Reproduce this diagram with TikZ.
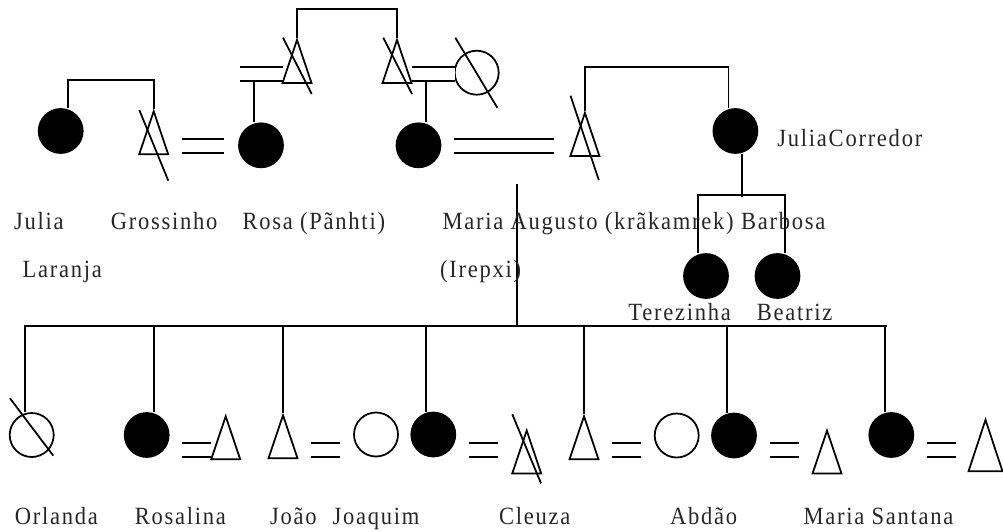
\documentclass[tikz,border=0pt]{standalone}
\usepackage{fontspec}
\setmainfont{Liberation Serif}[FakeStretch=0.91,LetterSpace=7]
\usetikzlibrary{shapes.geometric}
\tikzset{
  fem/.style={circle, draw, inner sep=0, minimum size=0.88cm},
  femf/.style={fem, fill=black},
  mal/.style={isosceles triangle, isosceles triangle stretches, shape border rotate=90, draw, inner sep=0, minimum width=0.58cm, minimum height=0.86cm, anchor=apex},
  marry/.style={double distance=0.245cm},
  lbl/.style={anchor=base west, inner sep=0, text=black!85, font=\fontsize{14.1}{17}\selectfont}
}
\begin{document}
\begin{tikzpicture}[x=0.02cm, y=-0.02cm, line width=1pt]
\useasboundingbox (0,0) rectangle (1003,531);
\node[femf] (julia) at (60.7,131) {};
\node[mal] (gross) at (153.7,109) {};
\node[femf] (rosa) at (261,145.3) {};
\node[mal] (rosaF) at (297,37.7) {};
\node[mal] (mariaF) at (397,37.7) {};
\node[fem] (mariaM) at (476.7,72.7) {};
\node[femf] (maria) at (418.5,145.3) {};
\node[mal] (augusto) at (584.9,110.7) {};
\node[femf] (juliac) at (735.4,131) {};
\node[femf] (terez) at (706,276) {};
\node[femf] (beatriz) at (777.5,276) {};

\node[fem] (orlanda) at (31.7,435) {};
\node[femf] (rosalina) at (146.7,435) {};
\node[mal] (rosalinaH) at (225.7,414) {};
\node[mal] (joao) at (283,413) {};
\node[fem] (joaoW) at (376,434.5) {};
\node[femf] (joaquim) at (433.3,434.5) {};
\node[mal] (cleuza) at (526.7,428.3) {};
\node[mal] (abdao) at (584,414) {};
\node[fem] (abdaoW) at (676.7,435.5) {};
\node[femf] (sis) at (734,435.5) {};
\node[mal] (sisH) at (827,428.3) {};
\node[femf] (santana) at (891.3,435) {};
\node[mal, minimum width=0.68cm, minimum height=1.03cm] (santanaH) at (985.5,417.5) {};

\draw ([shift={(-14.4,1)}]gross.apex) -- ++(29,70.7);
\draw ([shift={(-14,0)}]rosaF.apex) -- ++(28.7,56.3);
\draw ([shift={(-13.7,0)}]mariaF.apex) -- ++(28.7,56.3);
\draw ([shift={(-21.4,-35)}]mariaM.center) -- ++(42,70);
\draw ([shift={(-14.4,-15)}]augusto.apex) -- ++(28.3,84.3);
\draw ([shift={(-21.7,-36.7)}]orlanda.center) -- ++(43.3,57.4);
\draw ([shift={(-14.4,-14)}]cleuza.apex) -- ++(28.7,69);

\draw ([shift={(7.3,0)}]julia.north) -- ++(0,-28.3) -| (gross.apex);
\draw (rosaF.apex) -- ++(0,-28.7) -| (mariaF.apex);
\draw ([shift={(-6.7,0)}]rosa.north) -- ++(0,-42.6);
\draw ([shift={(7.5,0)}]maria.north) -- ++(0,-42.6);
\draw (augusto.apex) -- ++(0,-44) -| ([shift={(-6.8,0)}]juliac.north);
\draw ([shift={(6.6,0)}]juliac.south) -- ++(0,43);
\draw ([shift={(-8,0)}]terez.north) -- ++(0,-58) -| ([shift={(7.5,0)}]beatriz.north);

\foreach \a/\b/\y in {182/224.3/145.7, 240/282.7/73.85, 412/455.3/73.85, 454/554/145.85,
  181.7/211/449.7, 311.3/340/449.7, 469.3/498/449.7, 612/641/449.7, 770/799/449.7, 926.7/956/449.7}
  \draw[marry] (\a,\y) -- (\b,\y);

\coordinate (kids) at (517,184.3);
\coordinate (sib) at (517,326.3);
\draw (kids) -- (sib);
\draw (sib) -- (887.3,326.3);
\foreach \n/\d in {orlanda/-6.7, rosalina/7, joao/0, joaquim/-7.3, abdao/0, sis/-7.3, santana/-6.3}
  \draw (sib) -| ([shift={(\d,0)}]\n.north);

\node[lbl] (lJulia) at (13.3,229.5) {Julia};
\node[lbl] (lLaranja) at (21.7,277) {Laranja};
\node[lbl] (lGross) at (110,229.5) {Grossinho};
\node[lbl] (lRosa) at (241.7,229.5) {Rosa (Pãnhti)};
\node[lbl] (lMaria) at (441.7,229.5) {Maria Augusto (krãkamrek) Barbosa};
\node[lbl] (lIrepxi) at (439.3,277) {(Irepxi)};
\node[lbl] (lJuliaC) at (776.6,146.5) {JuliaCorredor};
\node[lbl] (lTerez) at (627.5,320) {Terezinha};
\node[lbl] (lBeatriz) at (756,320) {Beatriz};
\node[lbl] (lOrlanda) at (14,524.5) {Orlanda};
\node[lbl] (lRosalina) at (134,524.5) {Rosalina};
\node[lbl] (lJoao) at (269.3,524.5) {João};
\node[lbl] (lJoaquim) at (331.7,524.5) {Joaquim};
\node[lbl] (lCleuza) at (498.3,524.5) {Cleuza};
\node[lbl] (lAbdao) at (669.3,524.5) {Abdão};
\node[lbl] (lSantana) at (802.7,524.5) {Maria Santana};
\end{tikzpicture}
\end{document}
